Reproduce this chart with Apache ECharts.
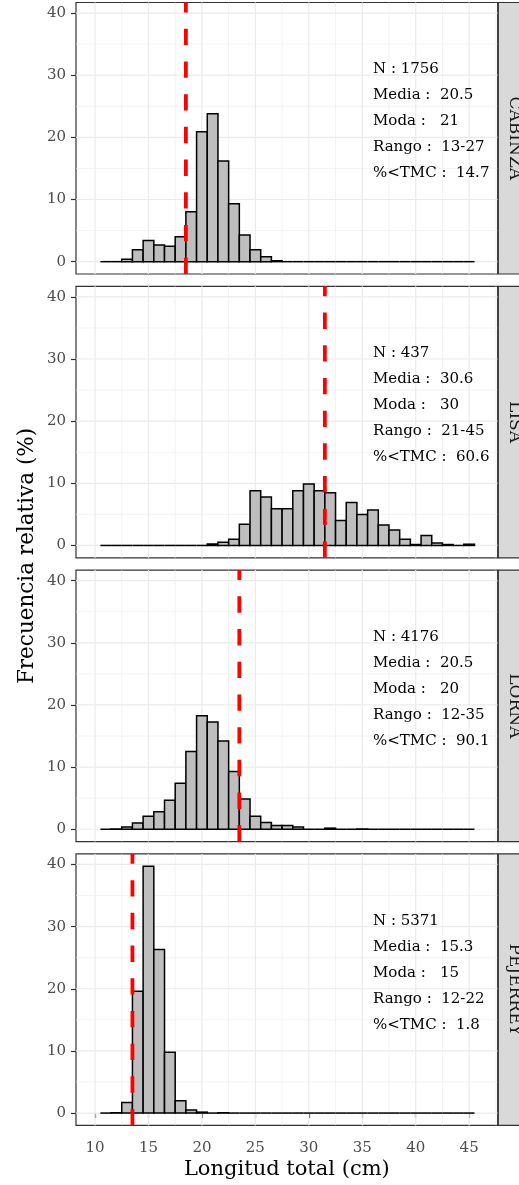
<!DOCTYPE html>
<html><head><meta charset="utf-8">
<script src="https://cdn.jsdelivr.net/npm/echarts@6/dist/echarts.min.js"></script>
<style>html,body{margin:0;padding:0;background:#fff}#c{width:519px;height:1185px}</style>
</head><body><div id="c"></div>
<script>
// ---- data ----
const binCenters = [11,12,13,14,15,16,17,18,19,20,21,22,23,24,25,26,27,28,29,30,31,32,33,34,35,36,37,38,39,40,41,42,43,44,45];
const species = ['CABINZA','LISA','LORNA','PEJERREY'];
const freqCabinza = [0,0,0.4,1.9,3.4,2.7,2.5,4.0,8.05,20.9,23.8,16.2,9.3,4.3,1.9,0.8,0.15,0,0,0,0,0,0,0,0,0,0,0,0,0,0,0,0,0,0];
const freqLisa = [0,0,0,0,0,0,0,0,0,0,0.25,0.5,1.0,3.4,8.8,7.8,5.9,5.9,8.8,9.9,8.8,8.5,4.0,6.9,5.0,5.7,3.3,2.5,1.0,0.15,1.6,0.4,0.15,0,0.2];
const freqLorna = [0,0.05,0.35,1.0,2.1,2.8,4.65,7.4,12.5,18.25,17.25,14.2,9.3,4.85,2.1,1.1,0.6,0.6,0.35,0,0,0.18,0,0,0.05,0,0,0,0,0,0,0,0,0,0];
const freqPejerrey = [0,0.05,1.7,19.6,39.7,26.3,9.8,2.0,0.5,0.15,0,0.05,0,0,0,0,0,0,0,0,0,0,0,0,0,0,0,0,0,0,0,0,0,0,0];
const freqs = [freqCabinza, freqLisa, freqLorna, freqPejerrey];
const tmcLine = [18.5, 31.5, 23.5, 13.5];
const statN = ['1756','437','4176','5371'];
const statMedia = ['20.5','30.6','20.5','15.3'];
const statModa = ['21','30','20','15'];
const statRango = ['13-27','21-45','12-35','12-22'];
const statTMC = ['14.7','60.6','90.1','1.8'];
const xTicks = [10,15,20,25,30,35,40,45];
const xMinor = [12.5,17.5,22.5,27.5,32.5,37.5,42.5,47.5];
const yTicks = [0,10,20,30,40];
const yMinor = [5,15,25,35];
const xTitle = 'Longitud total (cm)';
const yTitle = 'Frecuencia relativa (%)';

// ---- layout / style ----
const FONT = 'DejaVu Serif';
const PLEFT = 76, PRIGHT = 497.7, PH = 271.5, TOP0 = 2.5, STEP = 283.8;
const XMIN = 8.22, XMAX = 47.67, YMIN = -1.985, YMAX = 41.7;
const tops = species.map((s, i) => TOP0 + i * STEP);

const chart = echarts.init(document.getElementById('c'), null, {renderer: 'canvas'});

const grids = [], xAxes = [], yAxes = [], series = [], graphics = [];

species.forEach((sp, i) => {
  const last = i === species.length - 1;
  grids.push({left: PLEFT, width: PRIGHT - PLEFT, top: tops[i], height: PH,
    show: true, borderColor: '#333333', borderWidth: 1.2, backgroundColor: '#ffffff'});
  xAxes.push({type: 'value', gridIndex: i, min: XMIN, max: XMAX,
    axisLine: {show: false}, splitLine: {show: false},
    axisTick: {show: last, customValues: xTicks, length: 5, lineStyle: {color: '#333333', width: 1.2}},
    axisLabel: {show: last, customValues: xTicks, margin: 15, color: '#4D4D4D', fontSize: 15, fontFamily: FONT}});
  yAxes.push({type: 'value', gridIndex: i, min: YMIN, max: YMAX,
    axisLine: {show: false}, splitLine: {show: false},
    axisTick: {show: true, customValues: yTicks, length: 5, lineStyle: {color: '#333333', width: 1.2}},
    axisLabel: {show: true, customValues: yTicks, margin: 10, color: '#4D4D4D', fontSize: 15, fontFamily: FONT}});

  // grid lines
  const gl = [];
  xMinor.forEach(v => gl.push([v, 0, 1]));
  yMinor.forEach(v => gl.push([v, 0, 0]));
  xTicks.forEach(v => gl.push([v, 1, 1]));
  yTicks.forEach(v => gl.push([v, 1, 0]));
  series.push({type: 'custom', xAxisIndex: i, yAxisIndex: i, z: 1, silent: true,
    dimensions: ['v', 'major', 'vert'], encode: {x: 0, y: 1},
    data: gl,
    renderItem: (params, api) => {
      const v = api.value(0), major = api.value(1), vert = api.value(2);
      const cs = params.coordSys;
      let shape;
      if (vert) { const x = api.coord([v, 0])[0]; shape = {x1: x, y1: cs.y, x2: x, y2: cs.y + cs.height}; }
      else { const y = api.coord([20, v])[1]; shape = {x1: cs.x, y1: y, x2: cs.x + cs.width, y2: y}; }
      return {type: 'line', shape, style: {stroke: '#EBEBEB', lineWidth: major ? 1.2 : 0.6}};
    }});

  // histogram bars
  series.push({type: 'custom', xAxisIndex: i, yAxisIndex: i, z: 2, silent: true,
    dimensions: ['len', 'pct'], encode: {x: 0, y: 1},
    data: binCenters.map((c, k) => [c, freqs[i][k]]),
    renderItem: (params, api) => {
      const c = api.value(0), v = api.value(1);
      const p0 = api.coord([c - 0.5, v]), p1 = api.coord([c + 0.5, 0]);
      if (v > 0) {
        return {type: 'rect', shape: {x: p0[0], y: p0[1], width: p1[0] - p0[0], height: p1[1] - p0[1]},
          style: {fill: '#BEBEBE', stroke: '#000000', lineWidth: 1.5}};
      }
      return {type: 'line', shape: {x1: p0[0], y1: p1[1], x2: p1[0], y2: p1[1]},
        style: {stroke: '#000000', lineWidth: 1.5}};
    }});

  // TMC dashed line
  series.push({type: 'custom', xAxisIndex: i, yAxisIndex: i, z: 3, silent: true,
    dimensions: ['x', 'y'], encode: {x: 0, y: 1},
    data: [[tmcLine[i], 0]],
    renderItem: (params, api) => {
      const cs = params.coordSys;
      const x = api.coord([api.value(0), 0])[0];
      return {type: 'line', shape: {x1: x, y1: cs.y + cs.height, x2: x, y2: cs.y},
        style: {stroke: '#FF0000', lineWidth: 3.8, lineDash: [16.35, 16.35], lineCap: 'butt'}};
    }});

  // annotation
  const lines = ['N : ' + statN[i], 'Media :  ' + statMedia[i], 'Moda :   ' + statModa[i],
                 'Rango :  ' + statRango[i], '%<TMC :  ' + statTMC[i]];
  lines.forEach((t, k) => {
    graphics.push({type: 'text', x: 373, y: tops[i] + 67 + k * 26, z: 10, silent: true,
      style: {text: t, fill: '#000000', font: '15px "' + FONT + '"', textAlign: 'left', textVerticalAlign: 'middle'}});
  });

  // strip
  graphics.push({type: 'rect', x: 498.3, y: tops[i], z: 5, silent: true,
    shape: {x: 0, y: 0, width: 40, height: PH},
    style: {fill: '#D9D9D9', stroke: '#333333', lineWidth: 1.2}});
  graphics.push({type: 'text', x: 514.5, y: tops[i] + PH / 2, rotation: -Math.PI / 2, z: 6, silent: true,
    style: {text: sp, fill: '#1A1A1A', font: '17px "' + FONT + '"', textAlign: 'center', textVerticalAlign: 'middle'}});
});

graphics.push({type: 'text', x: (PLEFT + PRIGHT) / 2, y: 1170, z: 6, silent: true,
  style: {text: xTitle, fill: '#000000', font: '21px "' + FONT + '"', textAlign: 'center', textVerticalAlign: 'middle'}});
graphics.push({type: 'text', x: 27.5, y: 556, rotation: Math.PI / 2, z: 6, silent: true,
  style: {text: yTitle, fill: '#000000', font: '21.5px "' + FONT + '"', textAlign: 'center', textVerticalAlign: 'middle'}});

chart.setOption({
  animation: false,
  backgroundColor: '#ffffff',
  grid: grids, xAxis: xAxes, yAxis: yAxes, series: series, graphic: graphics
});
</script></body></html>
